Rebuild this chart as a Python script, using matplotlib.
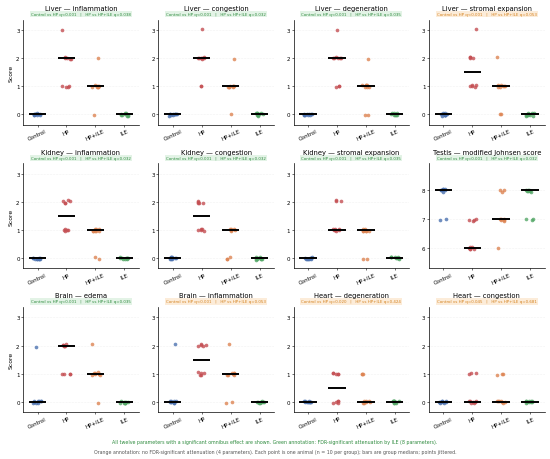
import numpy as np
import matplotlib
matplotlib.use("Agg")
import matplotlib.pyplot as plt

groups = ["Control", "HP", "HP+ILE", "ILE"]
colors = ["#4c72b0", "#c44e52", "#dd8452", "#55a868"]

titles = [
    "Liver — inflammation", "Liver — congestion", "Liver — degeneration", "Liver — stromal expansion",
    "Kidney — inflammation", "Kidney — congestion", "Kidney — stromal expansion", "Testis — modified Johnsen score",
    "Brain — edema", "Brain — inflammation", "Heart — degeneration", "Heart — congestion",
]
q_ctrl_hp = ["q<0.001", "q<0.001", "q<0.001", "q<0.001",
             "q<0.001", "q<0.001", "q<0.001", "q<0.001",
             "q<0.001", "q<0.001", "q=0.020", "q=0.045"]
q_hp_ile = ["q=0.038", "q=0.032", "q=0.035", "q=0.053",
            "q=0.032", "q=0.032", "q=0.035", "q=0.032",
            "q=0.035", "q=0.053", "q=0.424", "q=0.681"]
significant = [True, True, True, False,
               True, True, True, True,
               True, False, False, False]

# scores per panel: Control, HP, HP+ILE, ILE (n = 10 each)
scores = [
    [[0]*10, [3, 2, 2, 2, 2, 2, 1, 1, 1, 1], [2, 1, 1, 1, 1, 1, 1, 1, 1, 0], [0]*10],
    [[0]*10, [3, 2, 2, 2, 2, 2, 2, 2, 1, 1], [2, 1, 1, 1, 1, 1, 1, 1, 1, 0], [0]*10],
    [[0]*10, [3, 2, 2, 2, 2, 2, 2, 1, 1, 1], [2, 1, 1, 1, 1, 1, 1, 1, 0, 0], [0]*10],
    [[0]*10, [3, 2, 2, 2, 2, 1, 1, 1, 1, 1], [2, 1, 1, 1, 1, 1, 1, 1, 0, 0], [0]*10],
    [[0]*10, [2, 2, 2, 2, 2, 1, 1, 1, 1, 1], [1, 1, 1, 1, 1, 1, 1, 1, 0, 0], [0]*10],
    [[0]*10, [2, 2, 2, 2, 2, 1, 1, 1, 1, 1], [1, 1, 1, 1, 1, 1, 1, 0, 0, 0], [0]*10],
    [[0]*10, [2, 2, 2, 1, 1, 1, 1, 1, 1, 1], [1, 1, 1, 1, 1, 1, 1, 1, 0, 0], [0]*10],
    [[8, 8, 8, 8, 8, 8, 8, 8, 7, 7], [7, 7, 7, 7, 6, 6, 6, 6, 6, 6],
     [8, 8, 8, 7, 7, 7, 7, 7, 7, 6], [8, 8, 8, 8, 8, 8, 8, 7, 7, 7]],
    [[2, 0, 0, 0, 0, 0, 0, 0, 0, 0], [2, 2, 2, 2, 2, 2, 1, 1, 1, 1], [2, 1, 1, 1, 1, 1, 1, 1, 1, 0], [0]*10],
    [[2, 0, 0, 0, 0, 0, 0, 0, 0, 0], [2, 2, 2, 2, 2, 1, 1, 1, 1, 1], [2, 1, 1, 1, 1, 1, 1, 1, 0, 0], [0]*10],
    [[0]*10, [1, 1, 1, 1, 1, 0, 0, 0, 0, 0], [1, 1, 1, 0, 0, 0, 0, 0, 0, 0], [0]*10],
    [[0]*10, [1, 1, 1, 0, 0, 0, 0, 0, 0, 0], [1, 1, 1, 0, 0, 0, 0, 0, 0, 0], [0]*10],
]

footer1 = ("All twelve parameters with a significant omnibus effect are shown. "
           "Green annotation: FDR-significant attenuation by ILE (8 parameters).")
footer2 = ("Orange annotation: no FDR-significant attenuation (4 parameters). "
           "Each point is one animal (n = 10 per group); bars are group medians; points jittered.")

GREEN_T, GREEN_BG = "#2e8b3e", "#e3f3e6"
ORANGE_T, ORANGE_BG = "#d4821f", "#fcecd9"

fig, axes = plt.subplots(3, 4, figsize=(5.5, 4.6), dpi=100)
fig.subplots_adjust(left=0.042, right=0.99, top=0.955, bottom=0.102, wspace=0.17, hspace=0.37)

rng = np.random.default_rng(3)
for k, ax in enumerate(axes.flat):
    data = scores[k]
    for g, vals in enumerate(data):
        vals = np.asarray(vals, dtype=float)
        xj = g + rng.uniform(-0.15, 0.15, len(vals))
        yj = vals + rng.uniform(-0.05, 0.05, len(vals))
        ax.scatter(xj, yj, s=7, color=colors[g], alpha=0.8, linewidths=0, zorder=3)
        med = np.median(vals)
        ax.plot([g - 0.3, g + 0.3], [med, med], color="black", lw=1.4, zorder=4,
                solid_capstyle="butt")
    ax.set_xlim(-0.5, 3.5)
    if k == 7:
        ax.set_ylim(5.3, 8.93)
        ax.set_yticks([6, 7, 8])
    else:
        ax.set_ylim(-0.36, 3.36)
        ax.set_yticks([0, 1, 2, 3])
    ax.set_xticks(range(4))
    ax.set_xticklabels(groups, rotation=25, fontsize=4.0)
    ax.tick_params(axis="y", labelsize=4.0, length=1.5, width=0.4, pad=1)
    ax.tick_params(axis="x", length=1.5, width=0.4, pad=1)
    for s in ["top", "right"]:
        ax.spines[s].set_visible(False)
    for s in ["left", "bottom"]:
        ax.spines[s].set_linewidth(0.5)
    ax.grid(axis="y", color="#e6e6e6", lw=0.4, ls=":")
    ax.set_axisbelow(True)
    ax.set_title(titles[k], fontsize=4.9, pad=7)
    tc, bg = (GREEN_T, GREEN_BG) if significant[k] else (ORANGE_T, ORANGE_BG)
    ax.text(0.5, 1.035, f"Control vs HP {q_ctrl_hp[k]}   |   HP vs HP+ILE {q_hp_ile[k]}",
            transform=ax.transAxes, ha="center", va="bottom", fontsize=2.9, color=tc,
            bbox=dict(boxstyle="square,pad=0.25", facecolor=bg, edgecolor="none"))
    if k % 4 == 0:
        ax.set_ylabel("Score", fontsize=4.4, labelpad=2)

fig.text(0.5, 0.038, footer1, ha="center", va="center", fontsize=3.4, color=GREEN_T)
fig.text(0.5, 0.016, footer2, ha="center", va="center", fontsize=3.4, color="#555555")

fig.savefig("out.png", dpi=100)
